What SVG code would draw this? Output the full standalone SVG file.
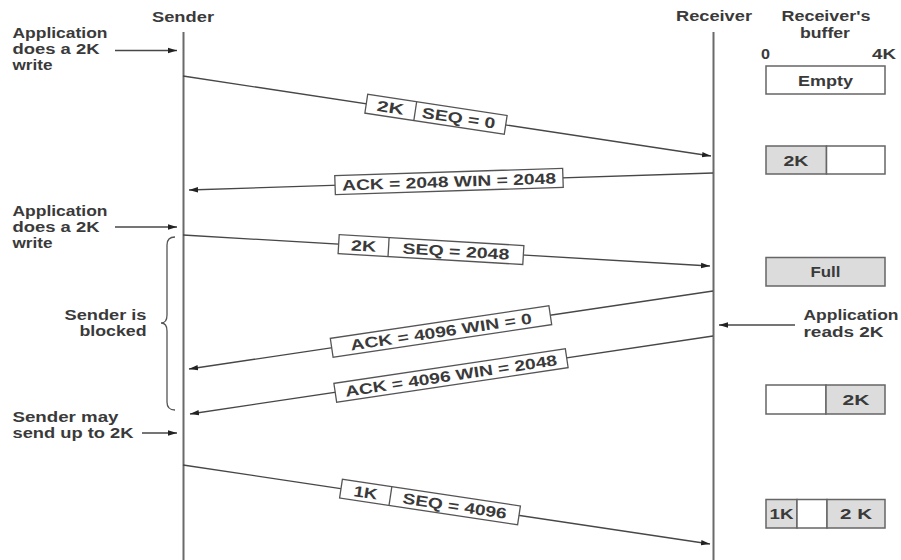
<svg xmlns="http://www.w3.org/2000/svg" width="901" height="560" viewBox="0 0 901 560">
<defs>
<marker id="ah" markerWidth="10" markerHeight="8" refX="9" refY="3.5" orient="auto" markerUnits="userSpaceOnUse"><path d="M0,0.8 L9,3.5 L0,6.2 z" fill="#222"/></marker>
</defs>
<style>
text{font-family:"Liberation Sans",Arial,sans-serif;fill:#3a3a3a;font-weight:bold}
.t{font-size:14px}
.b{font-size:15px}
.life{stroke:#6a6a6a;stroke-width:2;fill:none}
.msg{stroke:#474747;stroke-width:1.3;fill:none}
.box{fill:#fff;stroke:#555;stroke-width:1.3}
.buf{fill:#fff;stroke:#666;stroke-width:1.5}
.g{fill:#dcdcdc}
</style>
<rect width="901" height="560" fill="#fff"/>

<g id="sender">
<line class="life" x1="183.5" y1="32" x2="183.5" y2="560"/>
<text class="t" x="183" y="22" text-anchor="middle" textLength="62" lengthAdjust="spacingAndGlyphs">Sender</text>
</g>
<g id="receiver">
<line class="life" x1="713.5" y1="32" x2="713.5" y2="560"/>
<text class="t" x="714" y="21" text-anchor="middle" textLength="76" lengthAdjust="spacingAndGlyphs">Receiver</text>
</g>
<g id="buffer-header">
<text class="t" x="826" y="21" text-anchor="middle" textLength="89" lengthAdjust="spacingAndGlyphs">Receiver's</text>
<text class="t" x="825" y="37.5" text-anchor="middle" textLength="50" lengthAdjust="spacingAndGlyphs">buffer</text>
<text class="t" x="761" y="59" textLength="9" lengthAdjust="spacingAndGlyphs">0</text>
<text class="t" x="896" y="59" text-anchor="end" textLength="24" lengthAdjust="spacingAndGlyphs">4K</text>
</g>

<g id="note-write1">
<text class="t" x="12.5" y="38" textLength="95" lengthAdjust="spacingAndGlyphs">Application</text>
<text class="t" x="12.5" y="54" textLength="87" lengthAdjust="spacingAndGlyphs">does a 2K</text>
<text class="t" x="12.5" y="69.5" textLength="40" lengthAdjust="spacingAndGlyphs">write</text>
</g>
<g id="note-write2">
<text class="t" x="12.5" y="216" textLength="95" lengthAdjust="spacingAndGlyphs">Application</text>
<text class="t" x="12.5" y="232" textLength="87" lengthAdjust="spacingAndGlyphs">does a 2K</text>
<text class="t" x="12.5" y="247.5" textLength="40" lengthAdjust="spacingAndGlyphs">write</text>
</g>
<g id="note-blocked">
<text class="t" x="146.5" y="320" text-anchor="end" textLength="82" lengthAdjust="spacingAndGlyphs">Sender is</text>
<text class="t" x="146.5" y="336" text-anchor="end" textLength="67" lengthAdjust="spacingAndGlyphs">blocked</text>
<path d="M175,237 Q167,237 167,245 L167,315 Q167,323 161,323 Q167,323 167,331 L167,402 Q167,410 175,410" fill="none" stroke="#555" stroke-width="1.3"/>
</g>
<g id="note-may">
<text class="t" x="12.5" y="422" textLength="106" lengthAdjust="spacingAndGlyphs">Sender may</text>
<text class="t" x="12.5" y="438" textLength="121" lengthAdjust="spacingAndGlyphs">send up to 2K</text>
</g>
<g id="note-reads">
<text class="t" x="803.5" y="320" textLength="95" lengthAdjust="spacingAndGlyphs">Application</text>
<text class="t" x="803.5" y="337" textLength="80" lengthAdjust="spacingAndGlyphs">reads 2K</text>
</g>

<g id="connectors">
<path class="msg" d="M115,50.5 L177,50.5" marker-end="url(#ah)"/>
<path class="msg" d="M115,227 L177,227" marker-end="url(#ah)"/>
<path class="msg" d="M142,433 L177,433" marker-end="url(#ah)"/>
<path class="msg" d="M795,325 L719,325" marker-end="url(#ah)"/>
<path class="msg" d="M183,76 L711,156" marker-end="url(#ah)"/>
<path class="msg" d="M713,173 L189,190" marker-end="url(#ah)"/>
<path class="msg" d="M183,235 L710,266" marker-end="url(#ah)"/>
<path class="msg" d="M713,291 L189,369" marker-end="url(#ah)"/>
<path class="msg" d="M713,336 L190,414" marker-end="url(#ah)"/>
<path class="msg" d="M183,465 L710,544" marker-end="url(#ah)"/>
</g>

<g id="label-seq0" transform="translate(436,114.3) rotate(8.62)">
<rect class="box" x="-70.5" y="-9.5" width="141" height="19"/>
<line x1="-21" y1="-9.5" x2="-21" y2="9.5" stroke="#555" stroke-width="1.3"/>
<text class="b" x="-46" y="5.5" text-anchor="middle" textLength="27" lengthAdjust="spacingAndGlyphs">2K</text>
<text class="b" x="23" y="5.5" text-anchor="middle" textLength="74" lengthAdjust="spacingAndGlyphs">SEQ = 0</text>
</g>
<g id="label-ack2048" transform="translate(449,181.5) rotate(-1.86)">
<rect class="box" x="-114" y="-9.5" width="228" height="19"/>
<text class="b" x="0" y="5.5" text-anchor="middle" textLength="214" lengthAdjust="spacingAndGlyphs">ACK = 2048 WIN = 2048</text>
</g>
<g id="label-seq2048" transform="translate(431,249.6) rotate(3.37)">
<rect class="box" x="-92.5" y="-9.5" width="185" height="19"/>
<line x1="-42.5" y1="-9.5" x2="-42.5" y2="9.5" stroke="#555" stroke-width="1.3"/>
<text class="b" x="-67.5" y="5.5" text-anchor="middle" textLength="25" lengthAdjust="spacingAndGlyphs">2K</text>
<text class="b" x="25" y="5.5" text-anchor="middle" textLength="107" lengthAdjust="spacingAndGlyphs">SEQ = 2048</text>
</g>
<g id="label-win0" transform="translate(441,331.5) rotate(-8.47)">
<rect class="box" x="-110.5" y="-9.5" width="221" height="19"/>
<text class="b" x="0" y="5.5" text-anchor="middle" textLength="183" lengthAdjust="spacingAndGlyphs">ACK = 4096 WIN = 0</text>
</g>
<g id="label-win2048" transform="translate(451,375.5) rotate(-8.48)">
<rect class="box" x="-117" y="-9.5" width="234" height="19"/>
<text class="b" x="0" y="5.5" text-anchor="middle" textLength="214" lengthAdjust="spacingAndGlyphs">ACK = 4096 WIN = 2048</text>
</g>
<g id="label-seq4096" transform="translate(430,502) rotate(8.53)">
<rect class="box" x="-90" y="-9.5" width="180" height="19"/>
<line x1="-40" y1="-9.5" x2="-40" y2="9.5" stroke="#555" stroke-width="1.3"/>
<text class="b" x="-65" y="5.5" text-anchor="middle" textLength="24" lengthAdjust="spacingAndGlyphs">1K</text>
<text class="b" x="25" y="5.5" text-anchor="middle" textLength="105" lengthAdjust="spacingAndGlyphs">SEQ = 4096</text>
</g>

<g id="buf-empty">
<rect class="buf" x="766" y="66" width="119" height="28"/>
<text class="b" x="825.5" y="85.5" text-anchor="middle" textLength="55" lengthAdjust="spacingAndGlyphs">Empty</text>
</g>
<g id="buf-2k">
<rect class="buf g" x="766" y="146" width="60.5" height="28"/>
<rect class="buf" x="826.5" y="146" width="58.5" height="28"/>
<text class="b" x="796" y="165.5" text-anchor="middle" textLength="25" lengthAdjust="spacingAndGlyphs">2K</text>
</g>
<g id="buf-full">
<rect class="buf g" x="766" y="257.5" width="119" height="28.5"/>
<text class="b" x="825.5" y="276.5" text-anchor="middle" textLength="30" lengthAdjust="spacingAndGlyphs">Full</text>
</g>
<g id="buf-free2k">
<rect class="buf" x="766" y="385" width="60" height="29"/>
<rect class="buf g" x="826" y="385" width="59" height="29"/>
<text class="b" x="856" y="404.5" text-anchor="middle" textLength="27" lengthAdjust="spacingAndGlyphs">2K</text>
</g>
<g id="buf-1k2k">
<rect class="buf g" x="766" y="499.5" width="31" height="28.5"/>
<rect class="buf" x="797" y="499.5" width="30" height="28.5"/>
<rect class="buf g" x="827" y="499.5" width="58" height="28.5"/>
<text class="b" x="781.5" y="518.5" text-anchor="middle" textLength="24" lengthAdjust="spacingAndGlyphs">1K</text>
<text class="b" x="856" y="518.5" text-anchor="middle" textLength="32" lengthAdjust="spacingAndGlyphs">2 K</text>
</g>
</svg>
